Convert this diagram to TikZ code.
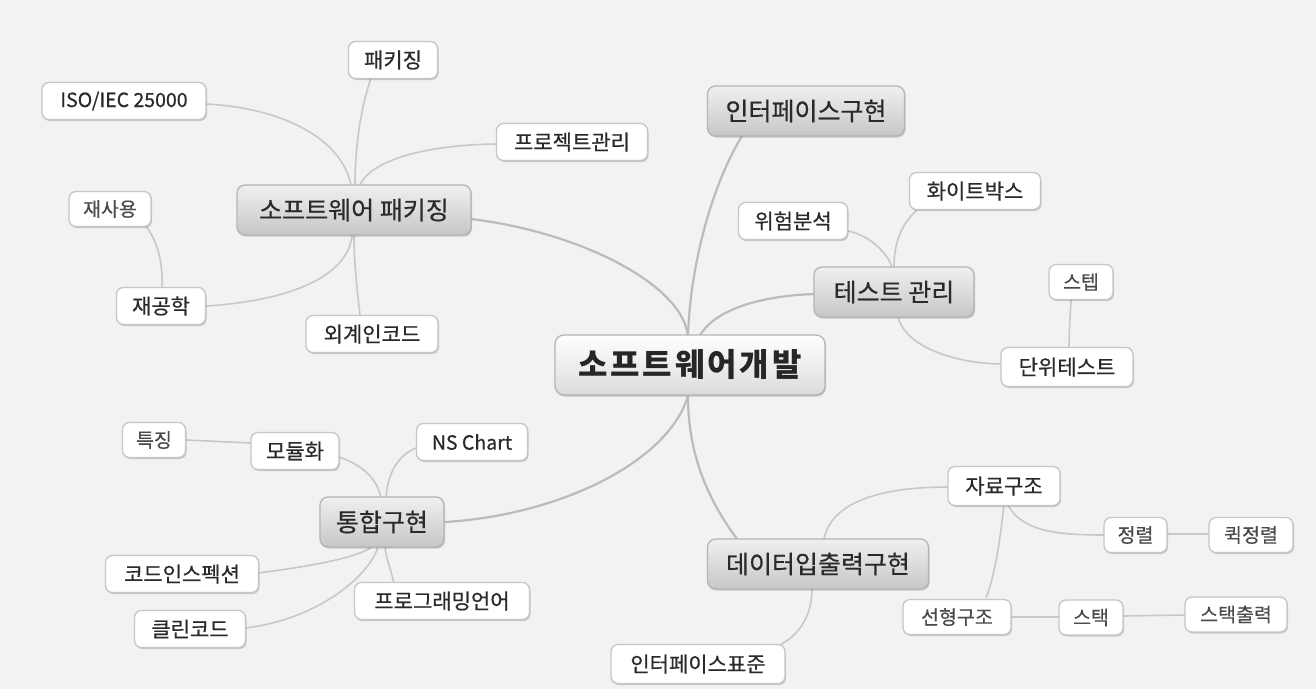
\documentclass[tikz,border=0pt]{standalone}
\usepackage{fontspec}
\setmainfont{Noto Sans CJK KR}
\usetikzlibrary{shadows}
\definecolor{bg}{HTML}{F2F2F2}
\definecolor{txt}{HTML}{2A2A2A}
\definecolor{txtlight}{HTML}{4A4A4A}
\definecolor{leafborder}{HTML}{C6C6C6}
\definecolor{mainborder}{HTML}{B4B4B4}
\definecolor{link}{HTML}{C8C8C8}
\definecolor{mainlink}{HTML}{BBBBBB}
\tikzset{
  leaf/.style={draw=leafborder, line width=1.3pt, fill=white, rounded corners=7pt,
    minimum height=37pt, inner sep=0pt, text=txt,
    font=\fontsize{21}{24}\selectfont\addfontfeature{FakeBold=0.5},
    drop shadow={shadow xshift=1pt, shadow yshift=-1.5pt, opacity=0.18, fill=black}},
  leafs/.style={leaf, text=txtlight, font=\fontsize{19.5}{22}\selectfont\addfontfeature{FakeBold=0.4}, minimum height=35pt},
  mainnode/.style={draw=mainborder, line width=1.3pt, rounded corners=8pt,
    top color=white!94!black, bottom color=white!78!black,
    minimum height=50pt, inner sep=0pt, text=txt,
    font=\fontsize{25}{28}\selectfont\addfontfeature{FakeBold=0.5},
    drop shadow={shadow xshift=1pt, shadow yshift=-1.5pt, opacity=0.18, fill=black}},
  centralnode/.style={draw=mainborder, line width=1.3pt, rounded corners=9pt,
    top color=white, bottom color=white!86!black,
    minimum height=60pt, minimum width=270pt, inner sep=0pt, text=black!85,
    font=\fontsize{32}{36}\selectfont\bfseries\addfontfeature{LetterSpace=9},
    drop shadow={shadow xshift=1pt, shadow yshift=-1.5pt, opacity=0.18, fill=black}},
  lk/.style={draw=link, line width=1.6pt},
  mlk/.style={draw=mainlink, line width=2.2pt},
}
\begin{document}
\begin{tikzpicture}[x=1pt,y=-1pt]
\fill[bg] (0,0) rectangle (1316,689);
\useasboundingbox (0,0) rectangle (1316,689);

% coordinates for link convergence
\coordinate (ct) at (688,337);
\coordinate (cb) at (688,396);

% ---------- links (drawn first) ----------
% main links
\draw[mlk] (471,219) .. controls (580,232) and (684,285) .. (ct);
\draw[mlk] (742,136) .. controls (712,185) and (690,265) .. (ct);
\draw[mlk] (814,294) .. controls (755,296) and (712,312) .. (699,337);
\draw[mlk] (445,522) .. controls (560,515) and (668,462) .. (cb);
\draw[mlk] (cb) .. controls (688,460) and (712,505) .. (737,539);

% 소프트웨어 패키징 children
\draw[lk] (206,104) .. controls (285,108) and (342,140) .. (351,185);
\draw[lk] (371,78) .. controls (360,110) and (355,150) .. (355,185);
\draw[lk] (497,144) .. controls (420,145) and (370,162) .. (360,185);
\draw[lk] (206,306) .. controls (300,300) and (348,272) .. (352,236);
\draw[lk] (360,315) .. controls (357,290) and (354,262) .. (354,236);
\draw[lk] (146,226) .. controls (160,245) and (163,268) .. (162,289);

% 테스트 관리 children
\draw[lk] (848,231) .. controls (872,236) and (888,255) .. (892,267);
\draw[lk] (917,210) .. controls (900,225) and (894,245) .. (894,267);
\draw[lk] (898,317) .. controls (905,345) and (950,363) .. (1001,364);
\draw[lk] (1071,300) .. controls (1070,318) and (1069,335) .. (1069,348);

% 통합구현 children
\draw[lk] (186,440) -- (251,443);
\draw[lk] (339,457) .. controls (366,466) and (378,482) .. (381,498);
\draw[lk] (416,448) .. controls (396,456) and (387,477) .. (386,498);
\draw[lk] (258,573) .. controls (312,566) and (356,558) .. (372,547);
\draw[lk] (245,628) .. controls (315,620) and (368,578) .. (378,547);
\draw[lk] (394,583) .. controls (391,570) and (386,558) .. (385,547);

% 데이터입출력구현 children
\draw[lk] (824,539) .. controls (832,500) and (885,487) .. (948,487);
\draw[lk] (812,589) .. controls (812,615) and (800,635) .. (778,646);
\draw[lk] (1004,505) .. controls (1000,540) and (995,575) .. (986,598);
\draw[lk] (1008,505) .. controls (1022,532) and (1060,535) .. (1104,535);
\draw[lk] (1167,534) -- (1209,534);
\draw[lk] (1011,617) -- (1059,617);
\draw[lk] (1123,616) -- (1185,615);

% ---------- nodes ----------
\node[centralnode] (c) at (690,365) {소프트웨어개발};

\node[mainnode, minimum width=234pt] (pk) at (354,210) {소프트웨어 패키징};
\node[mainnode, minimum width=197pt] (ifc) at (806,111) {인터페이스구현};
\node[mainnode, minimum width=160pt] (tm) at (894,292) {테스트 관리};
\node[mainnode, minimum width=124pt] (ti) at (382,522) {통합구현};
\node[mainnode, minimum width=221pt] (dio) at (818,564) {데이터입출력구현};

\node[leaf, minimum width=89pt] (pkg) at (393,60) {패키징};
\node[leaf, minimum width=164pt, font=\fontsize{19.5}{22}\selectfont\addfontfeature{FakeBold=0.5}] (iso) at (124,101) {ISO/IEC 25000};
\node[leaf, minimum width=151pt] (pm) at (572,142) {프로젝트관리};
\node[leafs, minimum width=82pt] (reuse) at (110,209) {재사용};
\node[leaf, minimum width=89pt] (reeng) at (161,306) {재공학};
\node[leaf, minimum width=132pt] (alien) at (372,334) {외계인코드};

\node[leaf, minimum width=109pt] (risk) at (793,221) {위험분석};
\node[leaf, minimum width=131pt] (wb) at (975,191) {화이트박스};
\node[leafs, minimum width=64pt] (step) at (1081,282) {스텝};
\node[leaf, minimum width=132pt, minimum height=39pt] (ut) at (1067,367) {단위테스트};

\node[leafs, minimum width=63pt] (feat) at (154,440) {특징};
\node[leaf, minimum width=88pt] (mod) at (295,451) {모듈화};
\node[leaf, minimum width=111pt, font=\fontsize{19.5}{22}\selectfont\addfontfeature{FakeBold=0.5}] (ns) at (472,442) {NS Chart};
\node[leaf, minimum width=153pt] (insp) at (182,574) {코드인스펙션};
\node[leaf, minimum width=111pt] (clean) at (190,629) {클린코드};
\node[leaf, minimum width=175pt] (pl) at (442,601) {프로그래밍언어};

\node[leaf, minimum width=112pt, minimum height=39pt] (ds) at (1004,486) {자료구조};
\node[leafs, minimum width=63pt] (sort) at (1135.5,535) {정렬};
\node[leafs, minimum width=84pt] (qs) at (1251,535) {퀵정렬};
\node[leafs, minimum width=108pt] (lin) at (957,617) {선형구조};
\node[leafs, minimum width=64pt] (stk) at (1091,617.5) {스택};
\node[leafs, minimum width=102pt] (stko) at (1236,614.5) {스택출력};
\node[leaf, minimum width=174pt, minimum height=39pt] (ifs) at (698,664) {인터페이스표준};
\end{tikzpicture}
\end{document}
